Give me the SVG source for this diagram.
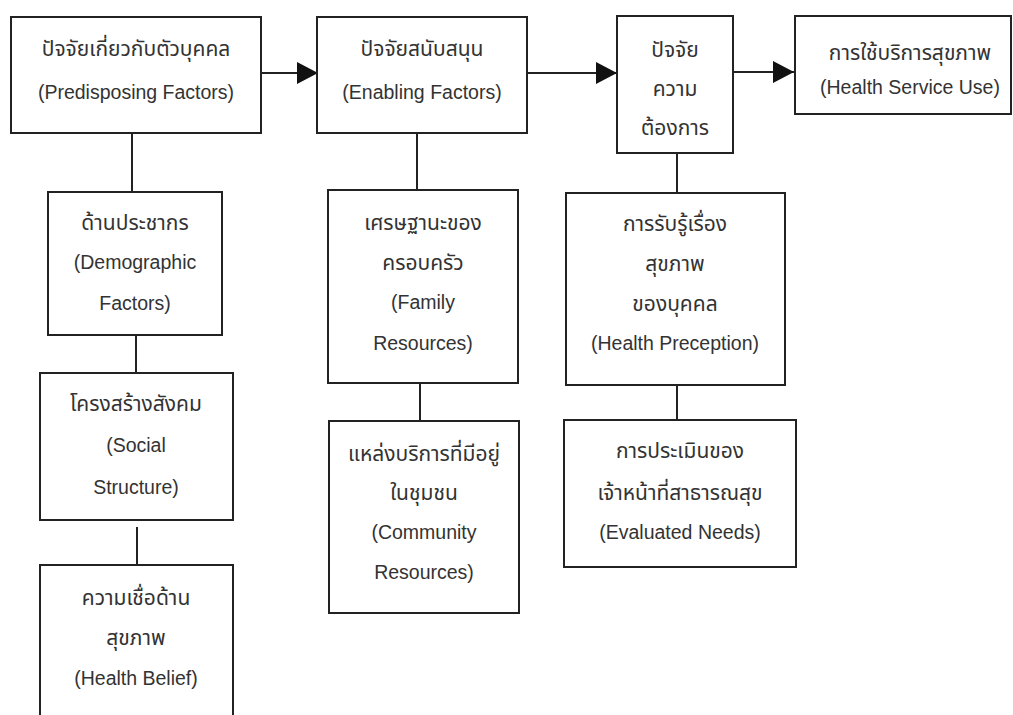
<svg xmlns="http://www.w3.org/2000/svg" width="1013" height="715" viewBox="0 0 1013 715">
<style>
.box{fill:#fff;stroke:#222;stroke-width:2}
.t{font-family:"Liberation Sans","Noto Sans Thai","Noto Sans",Arial,sans-serif;font-size:19.5px;fill:#333;text-anchor:middle}
.th{font-size:21px}
.c{stroke:#222;stroke-width:2;fill:none}
</style>
<defs>
<marker id="ah" markerUnits="userSpaceOnUse" markerWidth="22" markerHeight="22" refX="21" refY="11" orient="auto">
<path d="M0,0 L21,11 L0,22 Z" fill="#111"/>
</marker>
</defs>
<rect width="1013" height="715" fill="#fff"/>
<g id="connectors">
<line class="c" x1="261" y1="73" x2="318" y2="73" marker-end="url(#ah)"/>
<line class="c" x1="527" y1="73" x2="617" y2="73" marker-end="url(#ah)"/>
<line class="c" x1="733" y1="72" x2="794" y2="72" marker-end="url(#ah)"/>
<line class="c" x1="132" y1="133" x2="132" y2="192"/>
<line class="c" x1="136" y1="335" x2="136" y2="373"/>
<line class="c" x1="137" y1="527" x2="137" y2="565"/>
<line class="c" x1="417" y1="133" x2="417" y2="190"/>
<line class="c" x1="420" y1="383" x2="420" y2="421"/>
<line class="c" x1="677" y1="153" x2="677" y2="193"/>
<line class="c" x1="677" y1="385" x2="677" y2="420"/>
</g>
<g id="predisposing">
<rect class="box" x="11" y="17" width="250" height="116"/>
<text class="t th" x="136" y="56">ปัจจัยเกี่ยวกับตัวบุคคล</text>
<text class="t" x="136" y="99">(Predisposing Factors)</text>
</g>
<g id="enabling">
<rect class="box" x="317" y="17" width="210" height="116"/>
<text class="t th" x="422" y="56">ปัจจัยสนับสนุน</text>
<text class="t" x="422" y="99">(Enabling Factors)</text>
</g>
<g id="need">
<rect class="box" x="617" y="16" width="116" height="137"/>
<text class="t th" x="675" y="57">ปัจจัย</text>
<text class="t th" x="675" y="96">ความ</text>
<text class="t th" x="675" y="135">ต้องการ</text>
</g>
<g id="use">
<rect class="box" x="795" y="16" width="216" height="98"/>
<text class="t th" x="910" y="60">การใช้บริการสุขภาพ</text>
<text class="t" x="910" y="94">(Health Service Use)</text>
</g>
<g id="demographic">
<rect class="box" x="48" y="192" width="174" height="143"/>
<text class="t th" x="135" y="230">ด้านประชากร</text>
<text class="t" x="135" y="269">(Demographic</text>
<text class="t" x="135" y="310">Factors)</text>
</g>
<g id="social">
<rect class="box" x="40" y="373" width="193" height="147"/>
<text class="t th" x="136" y="411">โครงสร้างสังคม</text>
<text class="t" x="136" y="452">(Social</text>
<text class="t" x="136" y="494">Structure)</text>
</g>
<g id="belief">
<rect class="box" x="40" y="565" width="193" height="170"/>
<text class="t th" x="136" y="605">ความเชื่อด้าน</text>
<text class="t th" x="136" y="645">สุขภาพ</text>
<text class="t" x="136" y="685">(Health Belief)</text>
</g>
<g id="family">
<rect class="box" x="328" y="190" width="190" height="193"/>
<text class="t th" x="423" y="230">เศรษฐานะของ</text>
<text class="t th" x="423" y="270">ครอบครัว</text>
<text class="t" x="423" y="309">(Family</text>
<text class="t" x="423" y="350">Resources)</text>
</g>
<g id="community">
<rect class="box" x="329" y="421" width="190" height="192"/>
<text class="t th" x="424" y="461">แหล่งบริการที่มีอยู่</text>
<text class="t th" x="424" y="500">ในชุมชน</text>
<text class="t" x="424" y="539">(Community</text>
<text class="t" x="424" y="579">Resources)</text>
</g>
<g id="perception">
<rect class="box" x="566" y="193" width="219" height="192"/>
<text class="t th" x="675" y="231">การรับรู้เรื่อง</text>
<text class="t th" x="675" y="271">สุขภาพ</text>
<text class="t th" x="675" y="311">ของบุคคล</text>
<text class="t" x="675" y="350">(Health Preception)</text>
</g>
<g id="evaluated">
<rect class="box" x="564" y="420" width="232" height="147"/>
<text class="t th" x="680" y="458">การประเมินของ</text>
<text class="t th" x="680" y="500">เจ้าหน้าที่สาธารณสุข</text>
<text class="t" x="680" y="539">(Evaluated Needs)</text>
</g>
</svg>
